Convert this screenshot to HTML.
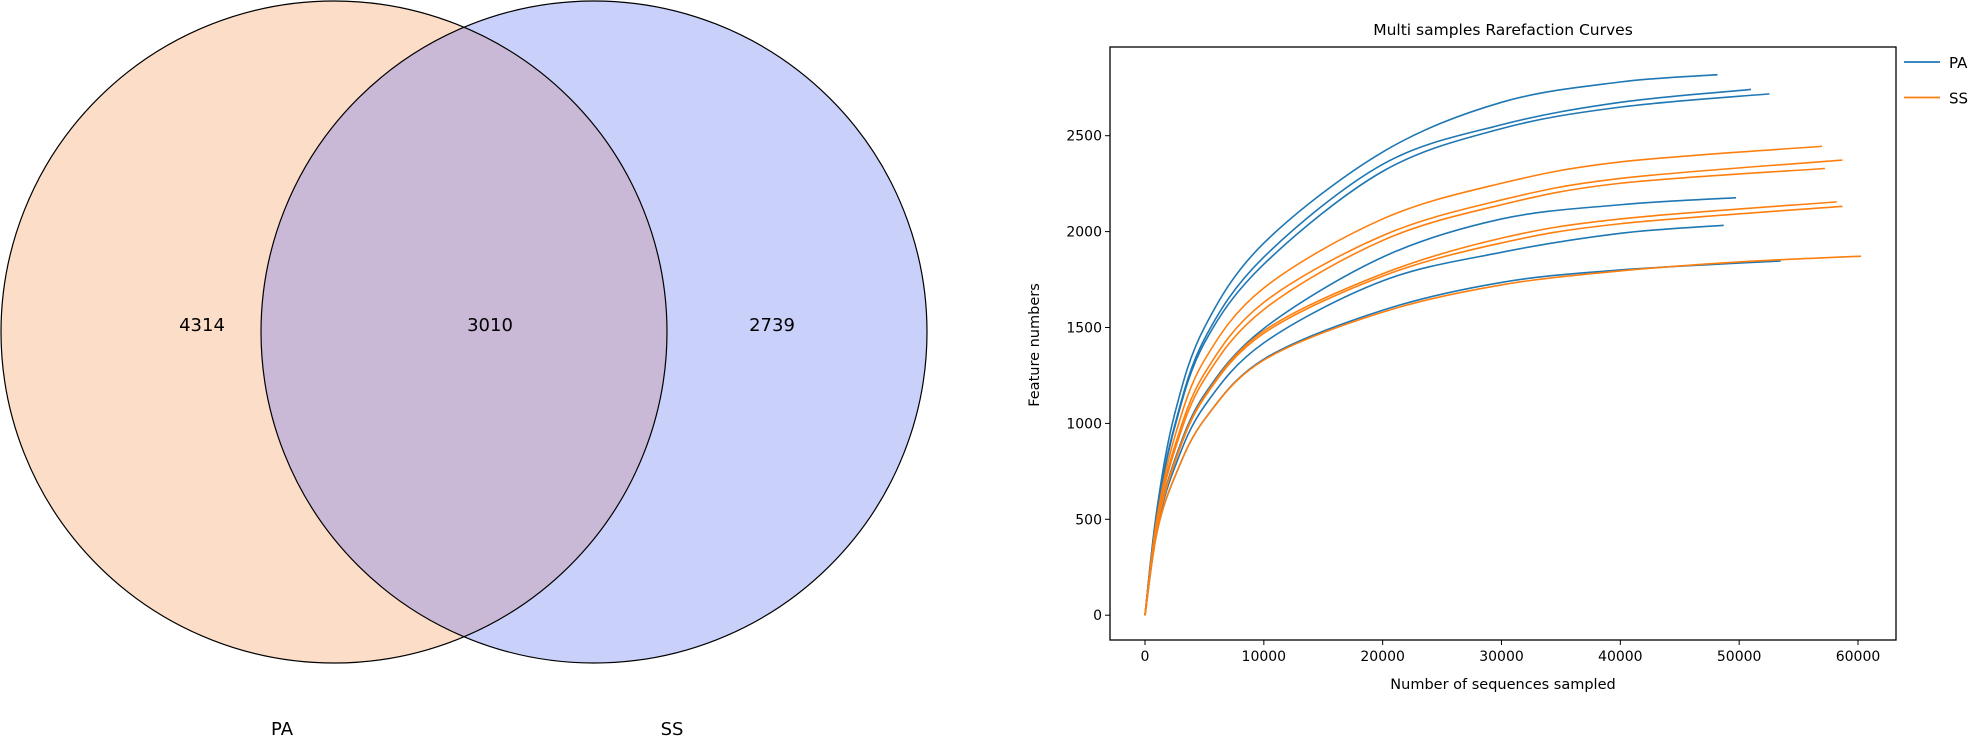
<!DOCTYPE html>
<html><head><meta charset="utf-8"><style>
body{margin:0;background:#fff;width:1970px;height:738px;overflow:hidden}
svg{display:block}
text{font-family:"DejaVu Sans","Liberation Sans",sans-serif;fill:#000}
</style></head><body>
<svg id="root" width="1970" height="738" viewBox="0 0 1970 738">
<defs><clipPath id="clipL"><ellipse cx="334" cy="332" rx="333" ry="331"/></clipPath></defs>
<g>
<ellipse cx="334" cy="332" rx="333" ry="331" fill="#fcddc7"/>
<ellipse cx="594" cy="332" rx="333" ry="331" fill="#c9d1fb"/>
<ellipse cx="594" cy="332" rx="333" ry="331" fill="#cab9d6" clip-path="url(#clipL)"/>
<ellipse cx="334" cy="332" rx="333" ry="331" fill="none" stroke="#000" stroke-width="1.2"/>
<ellipse cx="594" cy="332" rx="333" ry="331" fill="none" stroke="#000" stroke-width="1.2"/>
<text x="202" y="331" font-size="18" text-anchor="middle">4314</text>
<text x="490" y="331" font-size="18" text-anchor="middle">3010</text>
<text x="772" y="331" font-size="18" text-anchor="middle">2739</text>
<text x="282" y="735" font-size="18" text-anchor="middle">PA</text>
<text x="672" y="735" font-size="18" text-anchor="middle">SS</text>
</g>
<g id="chart"></g>
</svg>
<script>
const xTicks=[0,10000,20000,30000,40000,50000,60000];
const yTicks=[0,500,1000,1500,2000,2500];
const groups=["PA","SS"];
const curveGroup=["PA","PA","PA","PA","PA","PA","SS","SS","SS","SS","SS","SS"];
const curveX=[
[0,1000,2500,5000,10000,20000,30000,40000,48180],
[0,1000,2500,5000,10000,20000,30000,40000,51000],
[0,1000,2500,5000,10000,20000,30000,40000,52550],
[0,1000,2500,5000,10000,20000,30000,40000,49740],
[0,1000,2500,5000,10000,20000,30000,40000,48700],
[0,1000,2500,5000,10000,20000,30000,40000,53490],
[0,1000,2500,5000,10000,20000,30000,40000,56970],
[0,1000,2500,5000,10000,20000,30000,40000,58690],
[0,1000,2500,5000,10000,20000,30000,40000,57230],
[0,1000,2500,5000,10000,20000,30000,40000,58220],
[0,1000,2500,5000,10000,20000,30000,40000,58690],
[0,1000,2500,5000,10000,20000,30000,40000,50000,60250]];
const curveY=[
[0,550,1050,1500,1940,2415,2674,2780,2818],
[0,536,990,1440,1867,2351,2557,2674,2741],
[0,529,980,1420,1830,2314,2537,2649,2718],
[0,462,810,1150,1495,1867,2066,2140,2177],
[0,448,770,1090,1420,1743,1892,1991,2033],
[0,430,720,1020,1335,1590,1735,1800,1847],
[0,505,930,1330,1706,2066,2252,2363,2445],
[0,490,880,1260,1631,1979,2165,2277,2373],
[0,482,860,1230,1594,1954,2140,2252,2329],
[0,460,800,1140,1482,1780,1966,2066,2155],
[0,458,795,1135,1470,1768,1941,2041,2132],
[0,430,720,1020,1330,1580,1722,1795,1842,1872]];
const colors={PA:"#1f77b4",SS:"#ff7f0e"};
const NS="http://www.w3.org/2000/svg";
const g=document.getElementById('chart');
const L=1110,R=1896,T=47,B=640;
const sx=v=>1145+(v-0)*(1858-1145)/60000;
const sy=v=>615.2-(v)*(615.2-135.7)/2500;
function mk(t,a,p){const e=document.createElementNS(NS,t);for(const k in a)e.setAttribute(k,a[k]);(p||g).appendChild(e);return e;}
curveX.forEach((xs,i)=>{
  const pts=xs.map((x,j)=>[sx(x),sy(curveY[i][j])]);
  let d="M"+pts[0][0]+","+pts[0][1];
  for(let j=0;j<pts.length-1;j++){
    const p0=pts[j-1]||pts[j],p1=pts[j],p2=pts[j+1],p3=pts[j+2]||p2;
    const c1=[p1[0]+(p2[0]-p0[0])/6,p1[1]+(p2[1]-p0[1])/6];
    const c2=[p2[0]-(p3[0]-p1[0])/6,p2[1]-(p3[1]-p1[1])/6];
    d+=" C"+c1+" "+c2+" "+p2;
  }
  const e=mk('path',{d:d,fill:"none",stroke:colors[curveGroup[i]],"stroke-width":1.6});
  
  
});
const frame=mk('rect',{x:L,y:T,width:R-L,height:B-T,fill:"none",stroke:"#000","stroke-width":1.3});


xTicks.forEach(v=>{
  const x=sx(v);
  mk('line',{x1:x,x2:x,y1:B,y2:B+5,stroke:"#000"});
  const t=mk('text',{x:x,y:B+21,"font-size":14,"text-anchor":"middle"});t.textContent=v;
  
  
});
yTicks.forEach(v=>{
  const y=sy(v);
  mk('line',{x1:L-5,x2:L,y1:y,y2:y,stroke:"#000"});
  const t=mk('text',{x:L-8,y:y+5,"font-size":14,"text-anchor":"end"});t.textContent=v;
  
  
});
let t=mk('text',{x:1503,y:35,"font-size":15.5,"text-anchor":"middle"});t.textContent="Multi samples Rarefaction Curves";


t=mk('text',{x:1503,y:689,"font-size":14.5,"text-anchor":"middle"});t.textContent="Number of sequences sampled";


t=mk('text',{x:0,y:0,"font-size":14.5,"text-anchor":"middle",transform:"translate(1039,345) rotate(-90)"});t.textContent="Feature numbers";


groups.forEach((gr,i)=>{
  const y=62+i*35.5;
  const ln=mk('line',{x1:1904,x2:1940,y1:y,y2:y,stroke:colors[gr],"stroke-width":1.8});
  
  
  const tx=mk('text',{x:1949,y:y+6,"font-size":15});tx.textContent=gr;
  
  
});
</script>
</body></html>
